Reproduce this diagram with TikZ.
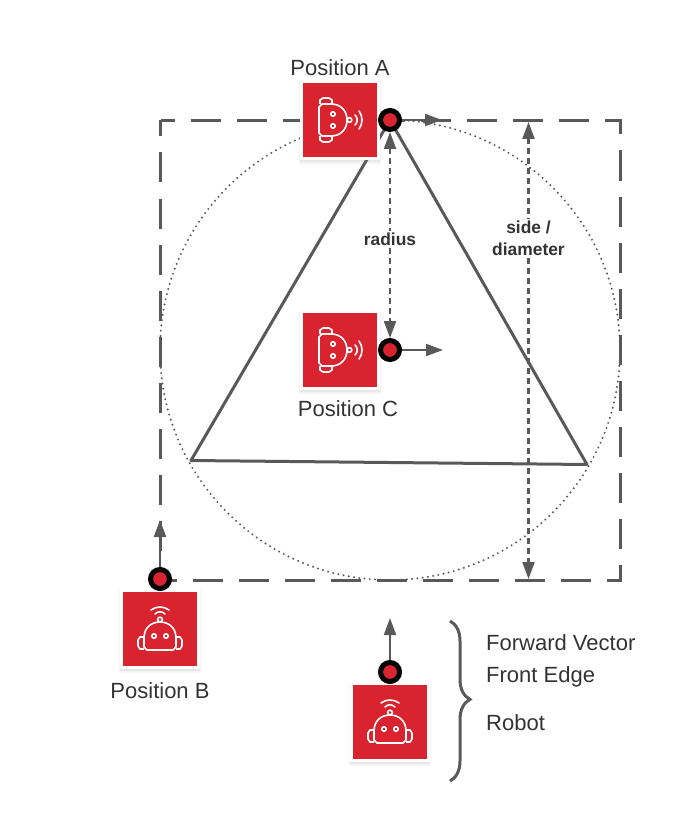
\documentclass[tikz,border=0pt]{standalone}
\usepackage{fontspec}
\setmainfont{Liberation Sans}
\usetikzlibrary{arrows.meta, positioning, shadows, backgrounds, decorations.pathreplacing}
\definecolor{tilered}{HTML}{D9232E}
\definecolor{linegray}{HTML}{595959}
\definecolor{textgray}{HTML}{333333}

\begin{document}
\begin{tikzpicture}[
  x=1pt, y=-1pt,
  >={Triangle[length=17pt, width=12pt]},
  tile/.style={draw=white, line width=3pt, fill=tilered, minimum size=77pt, inner sep=0pt,
    drop shadow={opacity=.08, shadow xshift=0pt, shadow yshift=-2.5pt, shadow scale=1.07},
    drop shadow={opacity=.12, shadow xshift=0pt, shadow yshift=-2pt, shadow scale=1.045}},
  frontmark/.style={circle, draw=black, line width=5pt, fill=tilered, minimum size=19pt, inner sep=0pt},
  poslabel/.style={font=\fontsize{22}{26}\selectfont, text=textgray, inner sep=0pt},
  keylabel/.style={font=\fontsize{22}{26}\selectfont, text=textgray, inner sep=0pt, anchor=base west},
  dimlabel/.style={font=\fontsize{17.4}{22}\selectfont\bfseries, text=textgray, align=center, fill=white, inner sep=2pt},
  fwd/.style={->, linegray, line width=2pt},
  dim/.style={<->, linegray, line width=2.2pt, dash pattern=on 6pt off 4pt},
  botface/.pic={
    \draw[white, line width=1.6pt, line join=round]
      (-16,9) .. controls (-16,-1) and (-9,-7) .. (0,-7) .. controls (9,-7) and (16,-1) .. (16,9)
      -- (16,18) -- (13,21) -- (-13,21) -- (-16,18) -- cycle;
    \draw[white, line width=1.6pt, line join=round]
      (-16,8) -- (-20,8) -- (-22,11) -- (-22,17) -- (-20,20) -- (-16,20)
      (16,8) -- (20,8) -- (22,11) -- (22,17) -- (20,20) -- (16,20);
    \draw[white, line width=1.6pt] (0,7) ++(-6,0) circle (2.2) ++(12,0) circle (2.2);
    \draw[white, line width=1.6pt] (0,-9.5) circle (2.3);
    \draw[white, line width=1.6pt, line cap=round]
      (-5,-15) .. controls (-2,-18) and (2,-18) .. (5,-15)
      (-9,-19) .. controls (-4,-23) and (4,-23) .. (9,-19);
  }]
  \useasboundingbox (0,0) rectangle (700,821);

  \node[tile] (robotA) at (340,120) {};
  \node[tile] (robotC) at (340,350) {};
  \node[tile] (robotB) at (160,629) {};
  \node[tile] (robotKey) at (390,722) {};
  \pic[rotate=-90] at (robotA) {botface};
  \pic[rotate=-90] at (robotC) {botface};
  \pic at (robotB) {botface};
  \pic at (robotKey) {botface};

  \node[frontmark] (frontA) at (390,120) {};
  \node[frontmark] (frontC) at (390,350) {};
  \node[frontmark] (frontB) at (160,579) {};
  \node[frontmark] (frontKey) at (390,672) {};

  \node[poslabel, above=4pt of robotA] (labA) {Position A};
  \node[poslabel, below=10pt of robotC, xshift=8pt] (labC) {Position C};
  \node[poslabel, below=13pt of robotB] (labB) {Position B};

  \coordinate (triA) at (390,120);
  \coordinate (triB) at (191,460.5);
  \coordinate (triC) at (587,464.5);
  \coordinate (sqNW) at (160.5,120.5);
  \coordinate (sqSE) at (620.5,580.5);
  \coordinate (sideTop) at (528.5,122);
  \coordinate (sideBot) at (528.5,579);

  \begin{scope}[on background layer]
    \draw[linegray, line width=3pt, dash pattern=on 30pt off 16pt, dash phase=14pt] (sqNW) rectangle (sqSE);
    \draw[linegray, line width=2.2pt, line cap=round, dash pattern=on 0pt off 5.3pt] (390,350) circle (230);
    \draw[linegray, line width=3pt, line join=round] (triA) -- (triB) -- (triC) -- cycle;
  \end{scope}

  \draw[fwd] (frontA) -- (442,120);
  \draw[fwd] (frontC) -- (443,350);
  \draw[fwd] (frontB) -- (160,520);
  \draw[fwd] (frontKey) -- (390,618);
  \draw[dim] (frontA) -- (frontC) node[pos=.52, dimlabel] (labRadius) {radius};
  \draw[dim] (sideTop) -- (sideBot) node[pos=.255, dimlabel] (labSide) {side /\\diameter};

  \draw[linegray, line width=3pt, decorate, decoration={brace, amplitude=20pt, aspect=.49}]
    (450,621) -- (450,781) coordinate[midway] (braceMid);

  \node[keylabel] (keyFwd) at (486,650) {Forward Vector};
  \node[keylabel] (keyEdge) at (486,682) {Front Edge};
  \node[keylabel] (keyRobot) at (486,730) {Robot};
\end{tikzpicture}
\end{document}
